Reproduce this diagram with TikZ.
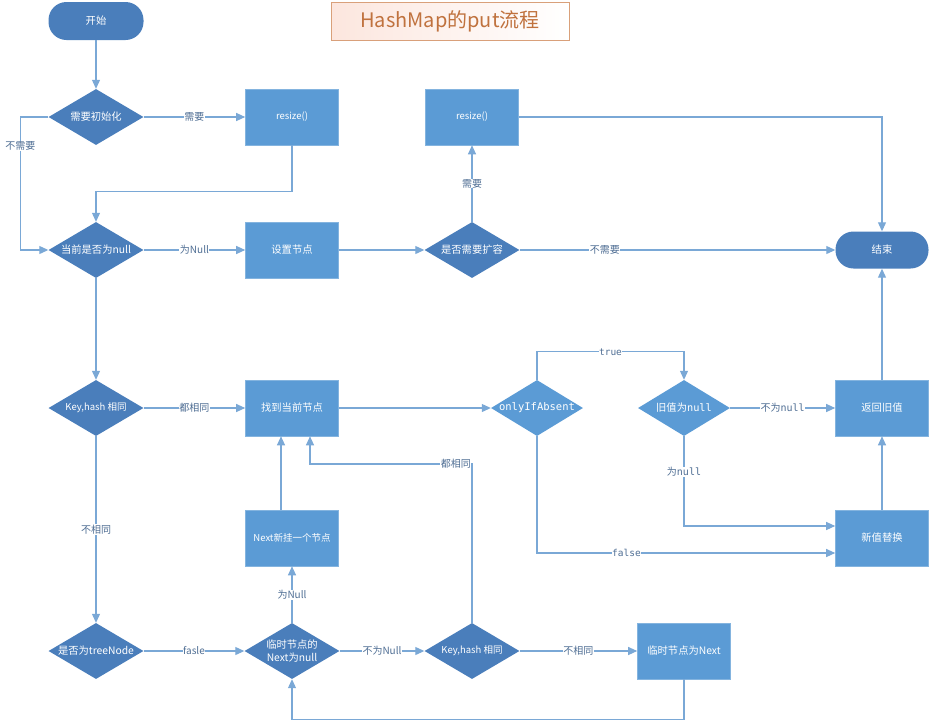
\documentclass[tikz,border=0pt]{standalone}
\usepackage{fontspec}
\setmainfont{Noto Sans CJK SC}
\newfontfamily\monof{DejaVu Sans Mono}
\usetikzlibrary{shapes.geometric,arrows.meta}
\definecolor{boxblue}{HTML}{5B9BD5}
\definecolor{darkblue}{HTML}{4A7EBB}
\definecolor{linec}{HTML}{7AA8D6}
\definecolor{labc}{HTML}{4F6E94}
\definecolor{titlec}{HTML}{C0723E}
\definecolor{titleb}{HTML}{D9A07A}
\definecolor{titlef}{HTML}{FCE6DE}
\newcommand\ctext[1]{\makebox[0pt][c]{#1}}
\tikzset{
  procbox/.style={rectangle, fill=boxblue, draw=boxblue!75!white, line width=0.6pt,
    minimum width=93pt, minimum height=56pt, inner sep=1pt, text=white,
    font=\fontsize{10.3}{12}\selectfont},
  decision/.style={diamond, fill=darkblue, minimum width=95pt, minimum height=56pt,
    inner sep=0pt, text=white, font=\fontsize{10.3}{12.5}\selectfont},
  lightdec/.style={decision, fill=boxblue, minimum width=92pt},
  terminal/.style={rectangle, rounded corners=18pt, fill=darkblue, minimum width=95pt,
    minimum height=38pt, text=white, font=\fontsize{10.3}{12}\selectfont},
  conn/.style={draw=linec, line width=1.1pt, -{Triangle[length=9pt,width=8pt]}},
  lab/.style={fill=white, text=labc, inner sep=0.5pt, font=\fontsize{10}{12}\selectfont},
}
\begin{document}
\begin{tikzpicture}[x=1pt,y=-1pt]
\useasboundingbox (0,0) rectangle (935,721);
% title
\node[draw=titleb, line width=0.8pt, left color=titlef, right color=white,
  minimum width=238pt, minimum height=38pt, text=titlec,
  font=\fontsize{20}{23}\selectfont] (title) at (450,21) {HashMap的put流程};
% nodes
\node[terminal] (start) at (96,21) {开始};
\node[decision] (d1) at (96,117) {\ctext{需要初始化}};
\node[procbox] (r1) at (292,117) {\fontsize{9.5}{11}\selectfont resize()};
\node[decision] (d2) at (96,250) {\ctext{当前是否为null}};
\node[procbox] (r2) at (292,250) {设置节点};
\node[decision] (d3) at (472,250) {\ctext{是否需要扩容}};
\node[procbox] (r3) at (472,117) {\fontsize{9.5}{11}\selectfont resize()};
\node[terminal, minimum width=93pt, minimum height=37pt] (end) at (882,250) {结束};
\node[decision] (d4) at (96,408) {\ctext{\fontsize{9.5}{11}\selectfont Key,hash 相同}};
\node[procbox] (r4) at (292,408) {找到当前节点};
\node[lightdec] (d5) at (537,408) {\ctext{\monof\fontsize{10.5}{12}\selectfont onlyIfAbsent}};
\node[lightdec] (d6) at (684,408) {\ctext{旧值为{\monof null}}};
\node[procbox] (r5) at (882,408) {返回旧值};
\node[procbox] (r6) at (882,538) {新值替换};
\node[decision] (d7) at (96,651) {\ctext{是否为treeNode}};
\node[decision] (d8) at (292,651) {\ctext{\shortstack{临时节点的\\[1pt]Next为null}}};
\node[procbox] (r7) at (292,538) {\fontsize{9.5}{11}\selectfont Next新挂一个节点};
\node[decision] (d9) at (472,651) {\ctext{\fontsize{9.5}{11}\selectfont Key,hash 相同}};
\node[procbox] (r8) at (684,651) {临时节点为Next};
% connectors
\draw[conn] (start.south) -- (d1.north);
\draw[conn] (d1.east) -- node[lab]{需要} (r1.west);
\draw[conn] (d1.west) -- ++(-28,0) |- node[lab,pos=0.11]{不需要} (d2.west);
\draw[conn] (r1.south) -- ++(0,46) -| (d2.north);
\draw[conn] (d2.east) -- node[lab]{为Null} (r2.west);
\draw[conn] (r2.east) -- (d3.west);
\draw[conn] (d3.north) -- node[lab]{需要} (r3.south);
\draw[conn] (d3.east) -- node[lab,pos=0.27]{不需要} (end.west);
\draw[conn] (r3.east) -| (end.north);
\draw[conn] (d2.south) -- (d4.north);
\draw[conn] (d4.east) -- node[lab]{都相同} (r4.west);
\draw[conn] (r4.east) -- (d5.west);
\draw[conn] (d5.north) -- ++(0,-28) -| node[lab,pos=0.25]{\monof\fontsize{9.5}{11}\selectfont true} (d6.north);
\draw[conn] (d6.east) -- node[lab]{不为{\monof null}} (r5.west);
\draw[conn] (d6.south) |- node[lab,pos=0.2]{为{\monof null}} ([yshift=12pt]r6.west);
\draw[conn] (d5.south) |- node[lab,pos=0.65]{\monof\fontsize{9.5}{11}\selectfont false} ([yshift=-15pt]r6.west);
\draw[conn] (r6.north) -- (r5.south);
\draw[conn] (r5.north) -- (end.south);
\draw[conn] (d4.south) -- node[lab]{不相同} (d7.north);
\draw[conn] (d7.east) -- node[lab]{fasle} (d8.west);
\draw[conn] (d8.north) -- node[lab]{为Null} (r7.south);
\draw[conn] ([xshift=-11pt]r7.north) -- ([xshift=-11pt]r4.south);
\draw[conn] (d9.north) -- (472,464) -| node[lab,pos=0.05]{都相同} ([xshift=18pt]r4.south);
\draw[conn] (d8.east) -- node[lab]{不为Null} (d9.west);
\draw[conn] (d9.east) -- node[lab]{不相同} (r8.west);
\draw[conn] (r8.south) -- ++(0,40) -| (d8.south);
\end{tikzpicture}
\end{document}
